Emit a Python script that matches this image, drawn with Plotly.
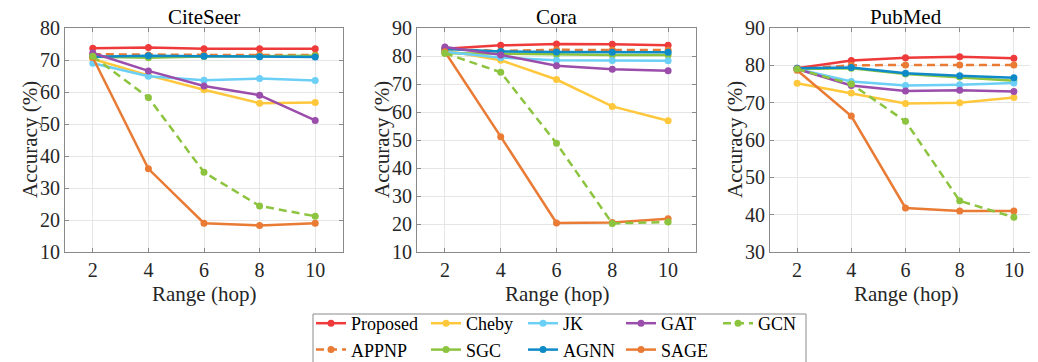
import plotly.graph_objects as go

hops = [2, 4, 6, 8, 10]
datasets = ["CiteSeer", "Cora", "PubMed"]
methods = ["Proposed", "APPNP", "Cheby", "SGC", "JK", "AGNN", "GAT", "SAGE", "GCN"]

# CiteSeer
proposed_cs = [73.7, 73.9, 73.5, 73.5, 73.5]
appnp_cs = [71.8, 71.6, 71.6, 71.6, 71.6]
cheby_cs = [70.3, 65.2, 60.7, 56.5, 56.7]
sgc_cs = [71.0, 70.7, 71.1, 71.1, 71.3]
jk_cs = [69.0, 64.9, 63.7, 64.2, 63.6]
agnn_cs = [71.0, 71.3, 71.2, 71.0, 70.9]
gat_cs = [72.2, 66.6, 61.9, 59.0, 51.1]
sage_cs = [70.8, 36.0, 19.0, 18.3, 19.0]
gcn_cs = [71.2, 58.3, 34.9, 24.4, 21.2]

# Cora
proposed_co = [82.6, 83.8, 84.3, 84.2, 83.8]
appnp_co = [82.5, 81.8, 82.2, 82.1, 82.1]
cheby_co = [82.0, 78.5, 71.6, 62.0, 56.9]
sgc_co = [81.0, 80.8, 80.5, 80.4, 80.4]
jk_co = [81.5, 79.4, 78.5, 78.4, 78.3]
agnn_co = [82.5, 81.6, 81.4, 81.3, 81.3]
gat_co = [83.2, 80.4, 76.5, 75.3, 74.7]
sage_co = [81.5, 51.2, 20.4, 20.5, 21.9]
gcn_co = [81.0, 74.2, 48.8, 20.2, 20.7]

# PubMed
proposed_pm = [79.2, 81.3, 82.0, 82.3, 81.9]
appnp_pm = [79.0, 80.0, 80.1, 80.1, 80.1]
cheby_pm = [75.2, 72.6, 69.8, 70.0, 71.4]
sgc_pm = [79.0, 79.2, 77.7, 76.9, 75.9]
jk_pm = [79.0, 75.7, 74.6, 74.8, 75.3]
agnn_pm = [79.2, 79.4, 77.9, 77.2, 76.7]
gat_pm = [79.0, 74.6, 73.1, 73.3, 73.0]
sage_pm = [78.7, 66.4, 41.8, 41.0, 41.0]
gcn_pm = [79.0, 75.0, 65.0, 43.7, 39.3]

series = {
    "CiteSeer": [proposed_cs, appnp_cs, cheby_cs, sgc_cs, jk_cs, agnn_cs, gat_cs, sage_cs, gcn_cs],
    "Cora": [proposed_co, appnp_co, cheby_co, sgc_co, jk_co, agnn_co, gat_co, sage_co, gcn_co],
    "PubMed": [proposed_pm, appnp_pm, cheby_pm, sgc_pm, jk_pm, agnn_pm, gat_pm, sage_pm, gcn_pm],
}
y_ranges = {"CiteSeer": [10, 80], "Cora": [10, 90], "PubMed": [30, 90]}

colors = {
    "Proposed": "#EE3A3A", "APPNP": "#E97B35", "Cheby": "#FFC83C", "SGC": "#8DC43F",
    "JK": "#6CCFF6", "AGNN": "#0E8AC8", "GAT": "#9A4DAA", "SAGE": "#E97B35", "GCN": "#8DC43F",
}
dashed = {"APPNP", "GCN"}
# legend columns (MATLAB column-major layout)
legend_cols = [["Proposed", "APPNP"], ["Cheby", "SGC"], ["JK", "AGNN"], ["GAT", "SAGE"], ["GCN"]]
col_x = [310, 425, 522, 620, 717]
legend_of = {}
for ci, col in enumerate(legend_cols):
    for m in col:
        legend_of[m] = "legend" if ci == 0 else "legend" + str(ci + 1)

W, H = 1038, 362
OFFY = 8
def px_x(p): return p / W
def px_y(p): return 1 - (p - OFFY) / H

domains_x = [(57, 335), (409, 688), (762, 1033)]
dom_y = [px_y(252), px_y(28)]

FONT = "'Liberation Serif', 'Times New Roman', 'DejaVu Serif', serif"
TXT = "#262626"
AX = "#8a8a8a"

fig = go.Figure()
for i, ds in enumerate(datasets):
    sfx = "" if i == 0 else str(i + 1)
    for m, vals in zip(methods, series[ds]):
        fig.add_trace(go.Scatter(
            x=hops, y=vals, name=m, mode="lines+markers",
            line=dict(color=colors[m], width=2.5, dash="8px,5px" if m in dashed else "solid"),
            marker=dict(color=colors[m], size=7),
            xaxis="x" + sfx, yaxis="y" + sfx,
            showlegend=(i == 0),
            legend=legend_of[m],
        ))

layout = dict(
    width=W, height=H, margin=dict(l=0, r=0, t=0, b=0, autoexpand=False),
    paper_bgcolor="white", plot_bgcolor="white",
    font=dict(family=FONT, color=TXT, size=19),
)
annotations = []
for i, ds in enumerate(datasets):
    sfx = "" if i == 0 else str(i + 1)
    x0, x1 = domains_x[i]
    layout["xaxis" + sfx] = dict(
        domain=[px_x(x0), px_x(x1)], range=[1, 11], anchor="y" + sfx,
        tickvals=hops, showgrid=True, gridcolor="#E6E6E6", gridwidth=1,
        showline=True, linecolor=AX, linewidth=1, mirror="ticks",
        ticks="inside", ticklen=4, tickcolor=AX, zeroline=False,
        tickfont=dict(family=FONT, size=20, color=TXT),
    )
    layout["yaxis" + sfx] = dict(
        domain=dom_y, range=y_ranges[ds], anchor="x" + sfx, dtick=10,
        showgrid=True, gridcolor="#E6E6E6", gridwidth=1,
        showline=True, linecolor=AX, linewidth=1, mirror="ticks",
        ticks="inside", ticklen=4, tickcolor=AX, zeroline=False,
        tickfont=dict(family=FONT, size=20, color=TXT),
    )
    cx = (x0 + x1) / 2
    annotations.append(dict(text=ds, x=px_x(cx), y=px_y(17), xref="paper", yref="paper",
                            showarrow=False, font=dict(family=FONT, size=21, color="black"),
                            xanchor="center", yanchor="middle"))
    annotations.append(dict(text="Range (hop)", x=px_x(cx), y=px_y(294), xref="paper", yref="paper",
                            showarrow=False, font=dict(family=FONT, size=21, color=TXT),
                            xanchor="center", yanchor="middle"))
    annotations.append(dict(text="Accuracy (%)", x=px_x(x0 - 35), y=px_y(140), xref="paper", yref="paper",
                            showarrow=False, textangle=-90, font=dict(family=FONT, size=21, color=TXT),
                            xanchor="center", yanchor="middle"))
layout["annotations"] = annotations

for ci, cx in enumerate(col_x):
    key = "legend" if ci == 0 else "legend" + str(ci + 1)
    layout[key] = dict(orientation="v", xanchor="left", yanchor="top", bgcolor="rgba(0,0,0,0)",
                       borderwidth=0, font=dict(family=FONT, size=18, color="black"),
                       itemwidth=30, tracegroupgap=0, traceorder="normal",
                       x=px_x(cx - 7), y=px_y(305))
layout["shapes"] = [dict(type="rect", xref="paper", yref="paper",
                         x0=px_x(305), x1=px_x(798), y0=px_y(380), y1=px_y(314),
                         line=dict(color="#8a8a8a", width=1), fillcolor="rgba(0,0,0,0)")]

fig.update_layout(**layout)
fig.write_html("out.html")
